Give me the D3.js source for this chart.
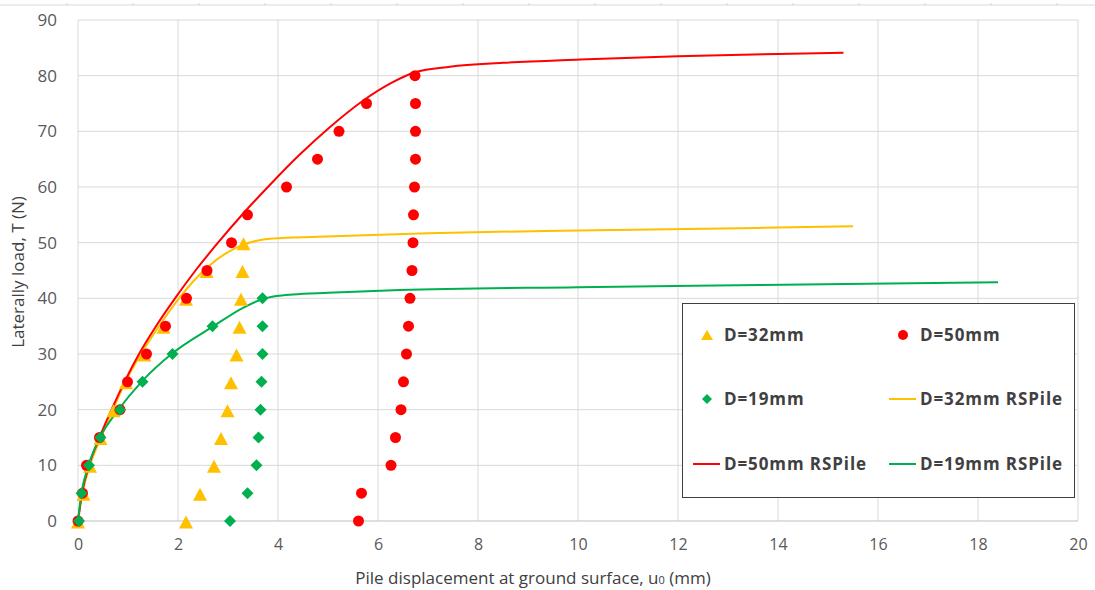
<!DOCTYPE html>
<html>
<head>
<meta charset="utf-8">
<script src="https://cdn.jsdelivr.net/npm/d3@7"></script>
<style>
  html, body { margin: 0; padding: 0; background: #ffffff; }
  svg { display: block; }
  text { font-family: "Open Sans", "Noto Sans", sans-serif; }
</style>
</head>
<body>
<svg id="chart" width="1095" height="590"></svg>
<script>
// Axis ticks
const xTicks = [0, 2, 4, 6, 8, 10, 12, 14, 16, 18, 20];
const yTicks = [0, 10, 20, 30, 40, 50, 60, 70, 80, 90];

// Measured load-displacement, D = 32 mm (loading to 50 N, then unloading)
const d32Load = [0, 5, 10, 15, 20, 25, 30, 35, 40, 45, 50, 45, 40, 35, 30, 25, 20, 15, 10, 5, 0];
const d32Disp = [0.0, 0.11, 0.24, 0.45, 0.71, 0.96, 1.33, 1.71, 2.16, 2.57, 3.31, 3.29, 3.26, 3.23, 3.17, 3.06, 2.99, 2.86, 2.72, 2.44, 2.16];

// Measured load-displacement, D = 50 mm (loading to 80 N, then unloading)
const d50Load = [0, 5, 10, 15, 20, 25, 30, 35, 40, 45, 50, 55, 60, 65, 70, 75, 80,
                 75, 70, 65, 60, 55, 50, 45, 40, 35, 30, 25, 20, 15, 10, 5, 0];
const d50Disp = [0.0, 0.09, 0.17, 0.43, 0.84, 0.99, 1.37, 1.75, 2.17, 2.58, 3.07, 3.39, 4.17, 4.79, 5.22, 5.77, 6.74,
                 6.75, 6.75, 6.75, 6.73, 6.71, 6.70, 6.68, 6.64, 6.61, 6.57, 6.51, 6.46, 6.35, 6.26, 5.67, 5.61];

// Measured load-displacement, D = 19 mm (loading to 40 N, then unloading)
const d19Load = [0, 5, 10, 15, 20, 25, 30, 35, 40, 35, 30, 25, 20, 15, 10, 5, 0];
const d19Disp = [0.02, 0.07, 0.22, 0.45, 0.84, 1.29, 1.89, 2.69, 3.69, 3.69, 3.69, 3.67, 3.65, 3.61, 3.57, 3.39, 3.04];

// RSPile predictions
const rs32Disp = [0, 0.09, 0.24, 0.46, 0.70, 0.95, 1.26, 1.62, 2.02, 2.33, 2.64, 3.00, 3.30, 3.60, 3.90, 4.80, 7.00, 10.00, 13.60, 15.50];
const rs32Load = [0, 5, 10, 15, 20, 25, 30, 35, 40, 43.3, 46.0, 48.3, 49.6, 50.4, 50.75, 51.05, 51.7, 52.2, 52.65, 52.95];

const rs50Disp = [0, 0.08, 0.22, 0.43, 0.67, 0.93, 1.22, 1.56, 1.94, 2.35, 2.80, 3.30, 3.85, 4.42, 5.03, 5.70, 6.25, 6.74, 7.44, 8.50, 10.04, 12.00, 14.00, 15.31];
const rs50Load = [0, 5, 10, 15, 20, 25, 30, 35, 40, 45, 50, 55.2, 60.5, 65.7, 70.7, 75.5, 78.6, 80.6, 81.6, 82.3, 82.9, 83.5, 83.9, 84.1];

const rs19Disp = [0, 0.07, 0.21, 0.44, 0.81, 1.27, 1.87, 2.71, 3.30, 3.67, 3.97, 4.30, 5.00, 6.44, 10.00, 13.64, 18.40];
const rs19Load = [0, 5, 10, 15, 20, 25, 30, 35, 38.3, 39.8, 40.4, 40.7, 41.0, 41.5, 42.0, 42.4, 42.9];

const seriesNames = ["D=32mm", "D=50mm", "D=19mm", "D=32mm RSPile", "D=50mm RSPile", "D=19mm RSPile"];
const seriesColors = ["#FFC000", "#FF0000", "#00B050", "#FFC000", "#FF0000", "#00B050"];

const svg = d3.select("#chart");

// Faint ruler strip along the top edge
const ruler = svg.append("g");
ruler.append("line").attr("x1", 0).attr("x2", 1095).attr("y1", 5).attr("y2", 5)
  .attr("stroke", "#e6e6e6").attr("stroke-width", 1.5);
d3.range(67, 1095, 66).forEach(x => {
  ruler.append("line").attr("x1", x).attr("x2", x).attr("y1", 3).attr("y2", 5)
    .attr("stroke", "#d0d0d0").attr("stroke-width", 1);
});

const x = d3.scaleLinear().domain([0, 20]).range([78, 1078]);
const y = d3.scaleLinear().domain([0, 90]).range([521, 20]);

// Gridlines
const grid = svg.append("g");
grid.selectAll("line.v").data(xTicks).join("line")
  .attr("x1", d => x(d)).attr("x2", d => x(d))
  .attr("y1", y(0)).attr("y2", y(90))
  .attr("stroke", "#d9d9d9").attr("stroke-width", 1);
grid.selectAll("line.h").data(yTicks).join("line")
  .attr("x1", x(0)).attr("x2", x(20))
  .attr("y1", d => y(d)).attr("y2", d => y(d))
  .attr("stroke", d => d === 0 ? "#bfbfbf" : "#d9d9d9").attr("stroke-width", 1);

// Axes (labels only; gridlines drawn above)
const xAxis = svg.append("g").attr("transform", `translate(0,${y(0) + 11})`)
  .call(d3.axisBottom(x).tickValues(xTicks).tickSize(0).tickPadding(7));
xAxis.select(".domain").remove();
xAxis.selectAll("text").attr("font-size", 16).attr("fill", "#595959")
  .attr("font-family", "'Open Sans', sans-serif");

const yAxis = svg.append("g").attr("transform", `translate(${x(0) - 21},0)`)
  .call(d3.axisLeft(y).tickValues(yTicks).tickSize(0).tickPadding(0));
yAxis.select(".domain").remove();
yAxis.selectAll("text").attr("font-size", 17).attr("fill", "#595959")
  .attr("font-family", "'Open Sans', sans-serif");

// Axis titles
const xTitle = svg.append("text")
  .attr("x", 533).attr("y", 584)
  .attr("text-anchor", "middle")
  .attr("font-size", 17).attr("fill", "#404040");
xTitle.append("tspan").text("Pile displacement at ground surface, u");
xTitle.append("tspan").attr("font-size", 11).text("0");
xTitle.append("tspan").text(" (mm)");

svg.append("text")
  .attr("transform", "translate(24,272) rotate(-90)")
  .attr("text-anchor", "middle")
  .attr("font-size", 17).attr("fill", "#404040")
  .text("Laterally load, T (N)");

// Marker shapes centred on their bounding box
function triPath(w, h) {
  return `M0,${-h / 2}L${w / 2},${h / 2}L${-w / 2},${h / 2}Z`;
}
function diamondPath(s) {
  return `M0,${-s}L${s},0L0,${s}L${-s},0Z`;
}

// RSPile curves
const lineGen = d3.line().x(d => x(d[0])).y(d => y(d[1])).curve(d3.curveMonotoneX);
const lines = [
  { disp: rs32Disp, load: rs32Load, color: seriesColors[3] },
  { disp: rs50Disp, load: rs50Load, color: seriesColors[4] },
  { disp: rs19Disp, load: rs19Load, color: seriesColors[5] }
];
lines.forEach(s => {
  svg.append("path")
    .datum(d3.zip(s.disp, s.load))
    .attr("d", lineGen)
    .attr("fill", "none")
    .attr("stroke", s.color)
    .attr("stroke-width", 2)
    .attr("stroke-linejoin", "round");
});

// Measured points
svg.append("g").selectAll("path").data(d3.zip(d32Disp, d32Load)).join("path")
  .attr("d", triPath(14, 13))
  .attr("transform", d => `translate(${x(d[0])},${y(d[1]) + 1})`)
  .attr("fill", seriesColors[0]);

svg.append("g").selectAll("circle").data(d3.zip(d50Disp, d50Load)).join("circle")
  .attr("cx", d => x(d[0])).attr("cy", d => y(d[1])).attr("r", 5.5)
  .attr("fill", seriesColors[1]);

svg.append("g").selectAll("path").data(d3.zip(d19Disp, d19Load)).join("path")
  .attr("d", diamondPath(6))
  .attr("transform", d => `translate(${x(d[0])},${y(d[1])})`)
  .attr("fill", seriesColors[2]);

// Legend
const legend = svg.append("g");
legend.append("rect")
  .attr("x", 682.5).attr("y", 303.5).attr("width", 392).attr("height", 194)
  .attr("fill", "#ffffff").attr("stroke", "#404040").attr("stroke-width", 1);

const legendCells = [
  { col: 0, row: 0, idx: 0, kind: "tri" },
  { col: 1, row: 0, idx: 1, kind: "circle" },
  { col: 0, row: 1, idx: 2, kind: "diamond" },
  { col: 1, row: 1, idx: 3, kind: "line" },
  { col: 0, row: 2, idx: 4, kind: "line" },
  { col: 1, row: 2, idx: 5, kind: "line" }
];
const colX = [707, 903];
const rowY = [335, 399, 464];

legendCells.forEach(c => {
  const cx = colX[c.col], cy = rowY[c.row];
  const color = seriesColors[c.idx];
  if (c.kind === "tri") {
    legend.append("path").attr("d", triPath(12, 10))
      .attr("transform", `translate(${cx},${cy})`).attr("fill", color);
  } else if (c.kind === "circle") {
    legend.append("circle").attr("cx", cx).attr("cy", cy).attr("r", 5).attr("fill", color);
  } else if (c.kind === "diamond") {
    legend.append("path").attr("d", diamondPath(5))
      .attr("transform", `translate(${cx},${cy})`).attr("fill", color);
  } else {
    legend.append("line").attr("x1", cx - 14).attr("x2", cx + 13)
      .attr("y1", cy).attr("y2", cy).attr("stroke", color).attr("stroke-width", 2);
  }
  legend.append("text")
    .attr("x", cx + 17).attr("y", cy)
    .attr("dy", "0.36em")
    .attr("font-size", 17).attr("font-weight", "bold").attr("fill", "#404040")
    .attr("letter-spacing", "0.9px")
    .text(seriesNames[c.idx]);
});
</script>
</body>
</html>
